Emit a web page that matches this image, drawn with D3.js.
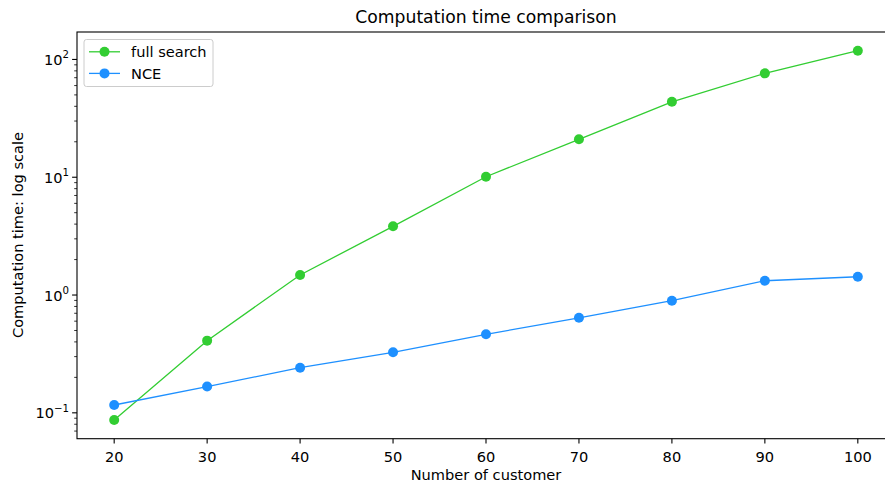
<!DOCTYPE html>
<html>
<head>
<meta charset="utf-8">
<script src="https://cdn.jsdelivr.net/npm/d3@7"></script>
<style>
  body { margin: 0; background: #fff; }
  svg { font-family: "DejaVu Sans", sans-serif; }
</style>
</head>
<body>
<div id="chart"></div>
<script>
// --- data ---
const customers = [20, 30, 40, 50, 60, 70, 80, 90, 100];
const fullSearch = [0.087, 0.41, 1.48, 3.83, 10.1, 21.0, 43.7, 76.2, 118.6];
const nce = [0.1165, 0.167, 0.2415, 0.3265, 0.464, 0.641, 0.895, 1.322, 1.43];
const xTicks = [20, 30, 40, 50, 60, 70, 80, 90, 100];
const yDecades = [-1, 0, 1, 2];

const series = [
    { name: "full search", values: fullSearch, color: "#32cd32" },
    { name: "NCE", values: nce, color: "#1e90ff" }
];

const W = 885, H = 485;
const margin = { left: 77, top: 32, right: 895, bottom: 438.7 };
const fs = "14.6px";

const svg = d3.select("#chart").append("svg")
    .attr("width", W)
    .attr("height", H);

const x = d3.scaleLinear().domain([16, 104]).range([margin.left, margin.right]);
const y = d3.scaleLog().domain([0.0603, 171]).range([margin.bottom, margin.top]);

// title + axis labels
svg.append("text")
    .attr("x", 486).attr("y", 23)
    .attr("text-anchor", "middle")
    .style("font-size", "17.2px")
    .text("Computation time comparison");

svg.append("text")
    .attr("x", 486).attr("y", 480)
    .attr("text-anchor", "middle")
    .style("font-size", fs)
    .text("Number of customer");

svg.append("text")
    .attr("transform", "translate(23,235) rotate(-90)")
    .attr("text-anchor", "middle")
    .style("font-size", fs)
    .text("Computation time: log scale");

// x axis
const gx = svg.append("g").attr("transform", `translate(0,${margin.bottom})`);
gx.selectAll("line").data(xTicks).enter().append("line")
    .attr("x1", d => x(d)).attr("x2", d => x(d))
    .attr("y1", 0).attr("y2", 4.9)
    .attr("stroke", "#000").attr("stroke-width", 1.1);
gx.selectAll("text").data(xTicks).enter().append("text")
    .attr("x", d => x(d)).attr("y", 23)
    .attr("text-anchor", "middle")
    .style("font-size", fs)
    .text(d => d);

// y axis: major + minor log ticks
const gy = svg.append("g").attr("transform", `translate(${margin.left},0)`);
const minor = [];
for (let e = -2; e <= 2; e++) {
    for (let m = 2; m <= 9; m++) {
        const v = m * Math.pow(10, e);
        if (v >= y.domain()[0] && v <= y.domain()[1]) minor.push(v);
    }
}
gy.selectAll("line.minor").data(minor).enter().append("line")
    .attr("class", "minor")
    .attr("x1", -2.8).attr("x2", 0)
    .attr("y1", d => y(d)).attr("y2", d => y(d))
    .attr("stroke", "#000").attr("stroke-width", 0.8);
gy.selectAll("line.major").data(yDecades).enter().append("line")
    .attr("class", "major")
    .attr("x1", -4.9).attr("x2", 0)
    .attr("y1", d => y(Math.pow(10, d))).attr("y2", d => y(Math.pow(10, d)))
    .attr("stroke", "#000").attr("stroke-width", 1.1);
const lbl = gy.selectAll("text").data(yDecades).enter().append("text")
    .attr("x", -8).attr("y", d => y(Math.pow(10, d)) + 5.5)
    .attr("text-anchor", "end")
    .style("font-size", fs);
lbl.append("tspan").text("10");
lbl.append("tspan")
    .attr("dy", -6.5)
    .style("font-size", "10.2px")
    .text(d => d < 0 ? "\u2212" + Math.abs(d) : d);

// spines
svg.append("rect")
    .attr("x", margin.left).attr("y", margin.top)
    .attr("width", margin.right - margin.left)
    .attr("height", margin.bottom - margin.top)
    .attr("fill", "none").attr("stroke", "#000").attr("stroke-width", 1.1);

// lines and markers
const line = d3.line().x((d, i) => x(customers[i])).y(d => y(d));
series.forEach(s => {
    svg.append("path")
        .datum(s.values)
        .attr("d", line)
        .attr("fill", "none")
        .attr("stroke", s.color)
        .attr("stroke-width", 1.3);
    svg.selectAll(null).data(s.values).enter().append("circle")
        .attr("cx", (d, i) => x(customers[i]))
        .attr("cy", d => y(d))
        .attr("r", 5)
        .attr("fill", s.color);
});

// legend
const lg = svg.append("g").attr("transform", "translate(84,39.5)");
lg.append("rect")
    .attr("width", 129).attr("height", 47).attr("rx", 2.5)
    .attr("fill", "#fff").attr("fill-opacity", 0.8)
    .attr("stroke", "#ccc").attr("stroke-width", 1);
series.forEach((s, i) => {
    const yy = 12.3 + i * 21.6;
    lg.append("line")
        .attr("x1", 5).attr("x2", 36).attr("y1", yy).attr("y2", yy)
        .attr("stroke", s.color).attr("stroke-width", 1.3);
    lg.append("circle").attr("cx", 20.5).attr("cy", yy).attr("r", 5).attr("fill", s.color);
    lg.append("text")
        .attr("x", 47).attr("y", yy + 5.2)
        .style("font-size", fs)
        .text(s.name);
});
</script>
</body>
</html>
